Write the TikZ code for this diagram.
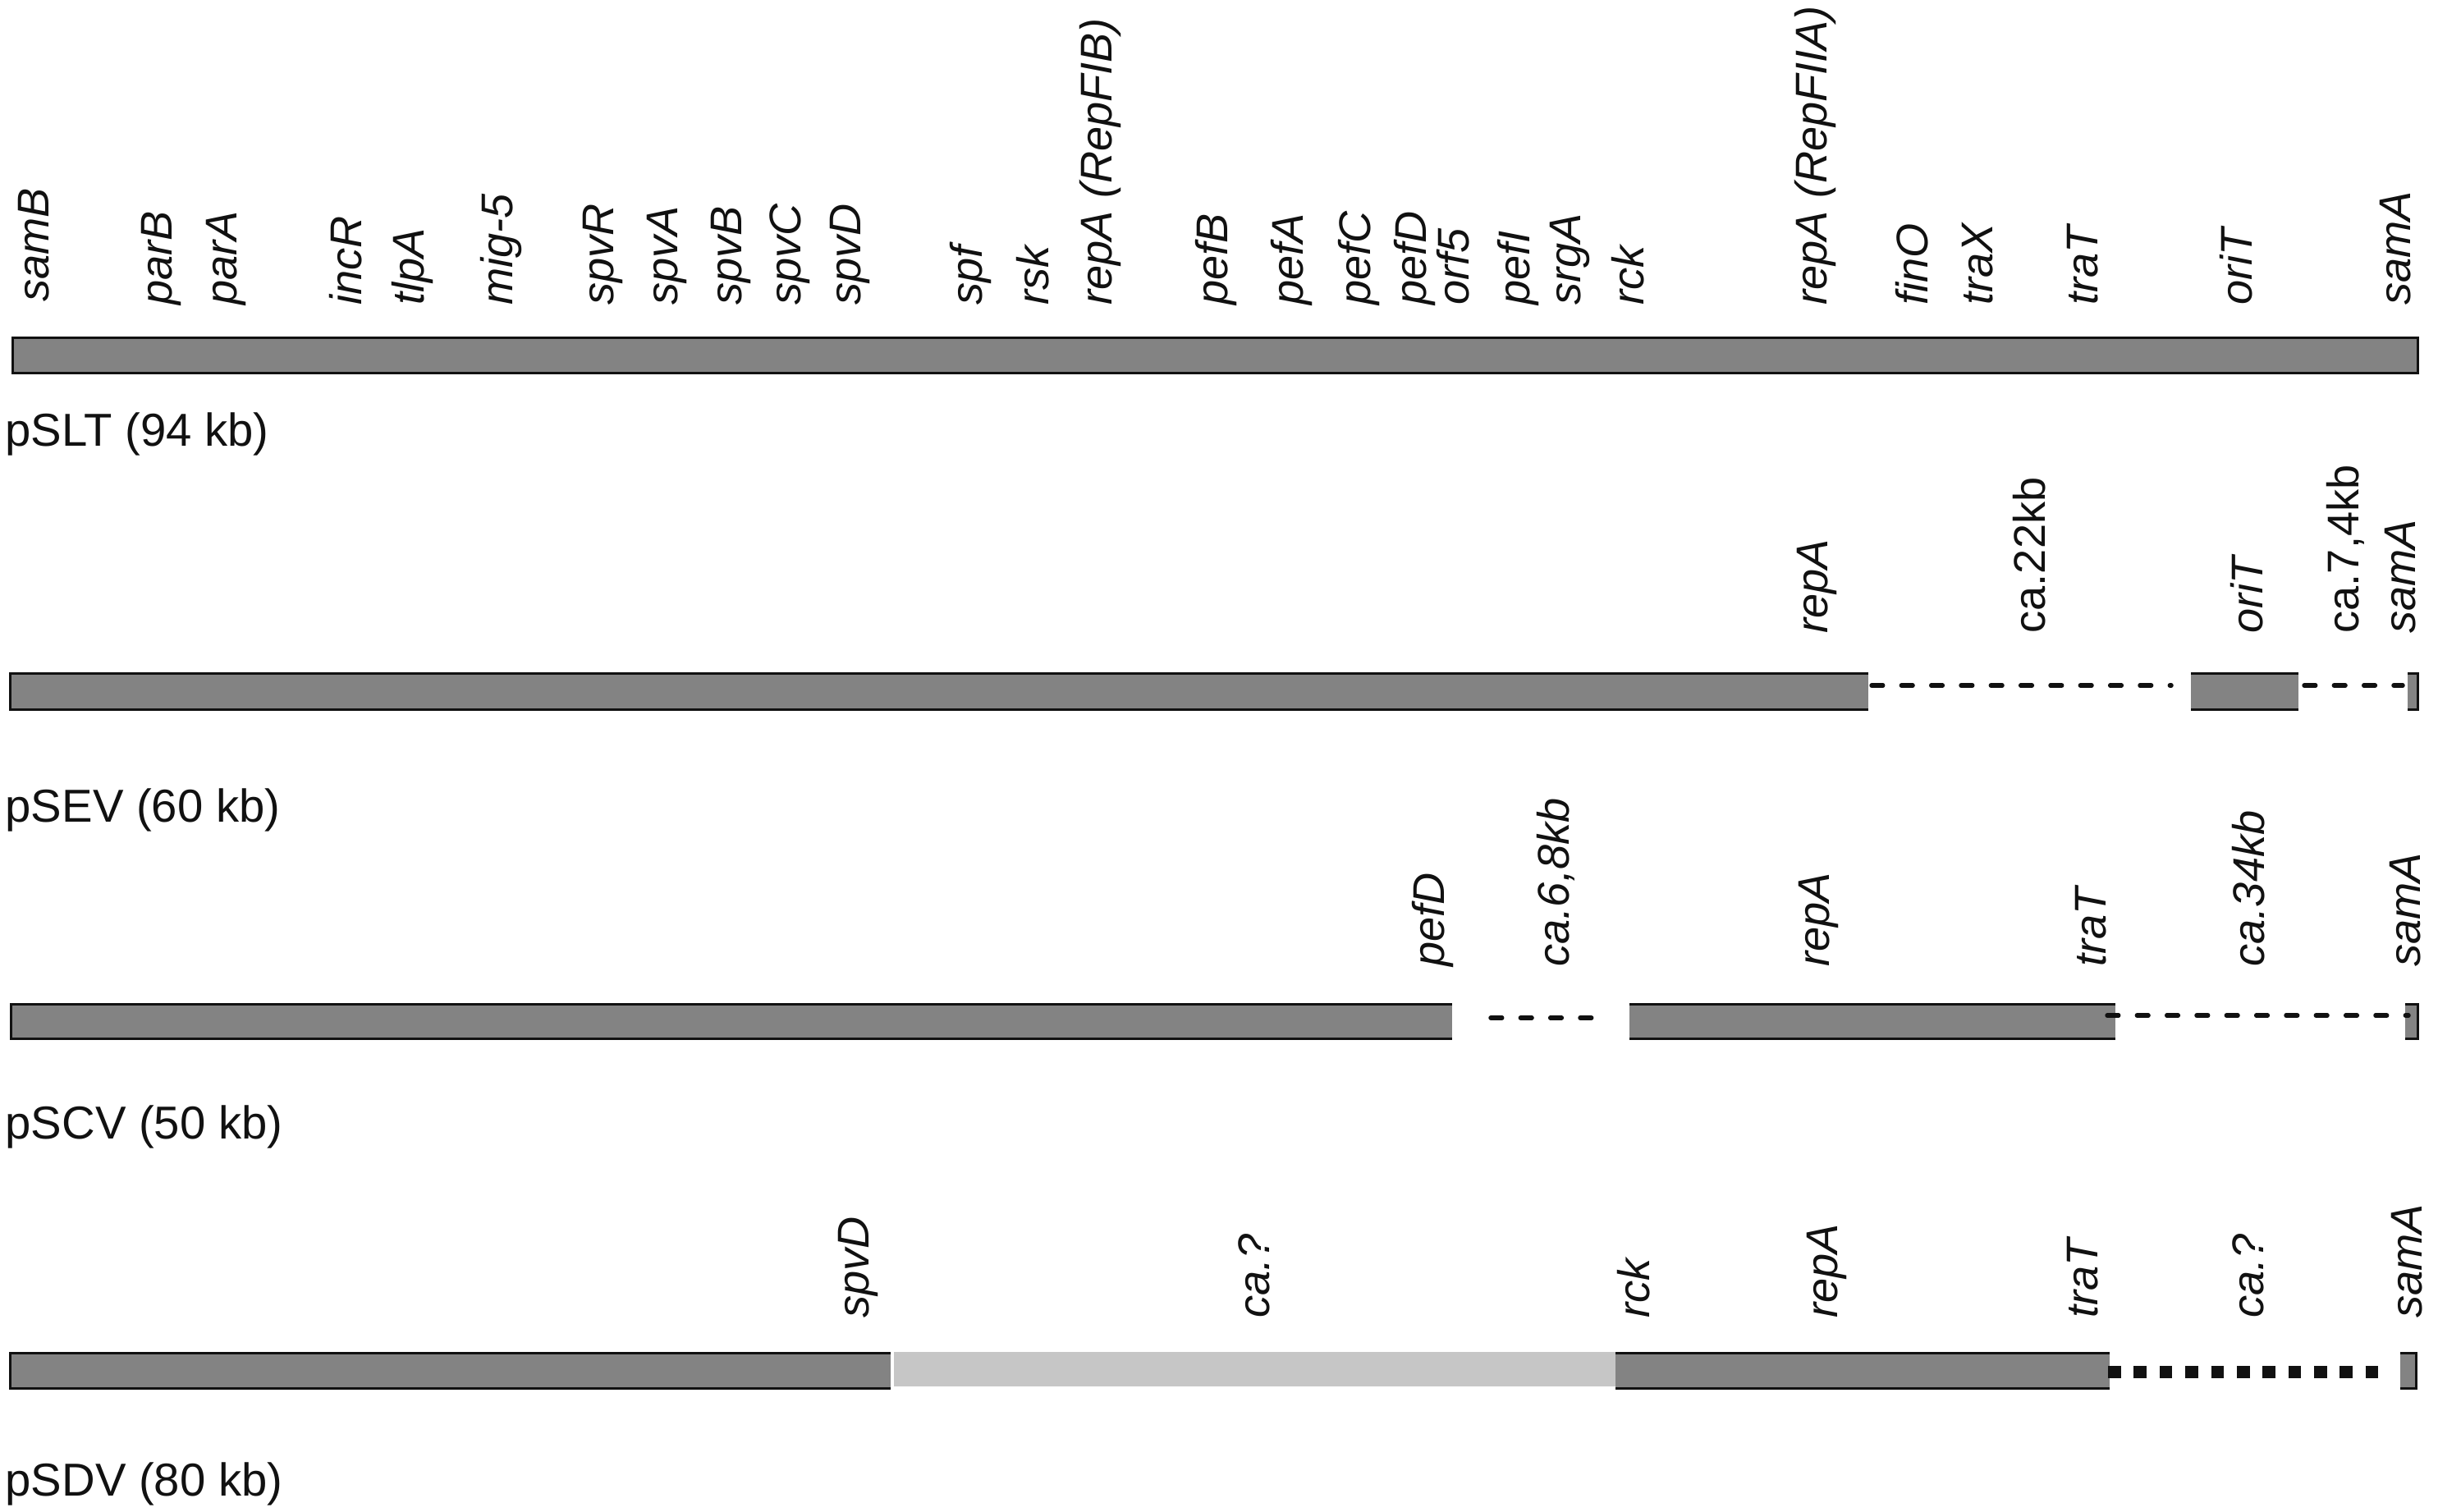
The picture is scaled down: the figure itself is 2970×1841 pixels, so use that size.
\documentclass[tikz,border=0pt]{standalone}
\usepackage{fontspec}
\setmainfont{Liberation Sans}
\definecolor{barGray}{HTML}{838383}
\definecolor{lightBar}{HTML}{C6C6C6}
\definecolor{ink}{HTML}{111111}
\newcommand\lblfont{\fontsize{15.4pt}{18pt}\selectfont}
\newcommand\plfont{\fontsize{16pt}{18pt}\selectfont}
\tikzset{
  gene/.style={rotate=90, anchor=west, inner sep=0pt, font=\lblfont\itshape, text=ink},
  size/.style={rotate=90, anchor=west, inner sep=0pt, font=\lblfont, text=ink},
  plasmid/.style={anchor=base west, inner sep=0pt, font=\plfont, text=ink},
  barfill/.style={fill=barGray, draw=none},
  edge/.style={draw=ink, line width=0.854pt, line cap=butt, line join=miter},
  gapline/.style={draw=ink, line width=1.55pt, line cap=round, dash pattern=on 3.9pt off 6.43pt},
  unknownline/.style={draw=ink, line width=4.41pt, line cap=butt, dash pattern=on 4.47pt off 4.45pt}
}
\begin{document}
\begin{tikzpicture}[x=0.01cm, y=-0.01cm]
\useasboundingbox (0,0) rectangle (2970,1841);

% ---------------- pSLT ----------------
\fill[barfill] (14,410) rectangle (2947,456);
\draw[edge] (15.5,411.5) rectangle (2945.5,454.5);
\node[plasmid] (lSLT) at (6,543) {pSLT (94 kb)};
\node[gene] (a1) at (41,368) {samB};
\node[gene] (a2) at (196,372) {parB};
\node[gene] (a3) at (275,372) {parA};
\node[gene] (a4) at (421,372) {incR};
\node[gene] (a5) at (502,372) {tlpA};
\node[gene] (a6) at (610,372) {mig-5};
\node[gene] (a7) at (734,372) {spvR};
\node[gene] (a8) at (812,372) {spvA};
\node[gene] (a9) at (890,372) {spvB};
\node[gene] (a10) at (962,372) {spvC};
\node[gene] (a11) at (1035,372) {spvD};
\node[gene] (a12) at (1182,372) {spf};
\node[gene] (a13) at (1258,372) {rsk};
\node[gene] (a14) at (1340,372) {repA (RepFIB)};
\node[gene] (a15) at (1481,372) {pefB};
\node[gene] (a16) at (1573,372) {pefA};
\node[gene] (a17) at (1655,372) {pefC};
\node[gene] (a18) at (1723,372) {pefD};
\node[gene] (a19) at (1770,372) {orf5};
\node[gene] (a20) at (1849,372) {pefI};
\node[gene] (a21) at (1912,372) {srgA};
\node[gene] (a22) at (1983,372) {rck};
\node[gene] (a23) at (2211,372) {repA (RepFIIA)};
\node[gene] (a24) at (2329,372) {finO};
\node[gene] (a25) at (2409,372) {traX};
\node[gene] (a26) at (2537,372) {traT};
\node[gene] (a27) at (2724,372) {oriT};
\node[gene] (a28) at (2918,372) {samA};

% ---------------- pSEV ----------------
\fill[barfill] (11,819) rectangle (2276,866);
\draw[edge] (2276,820.5) -- (12.5,820.5) -- (12.5,864.5) -- (2276,864.5);
\fill[barfill] (2669,819) rectangle (2800,866);
\draw[edge] (2669,820.5) -- (2800,820.5) (2669,864.5) -- (2800,864.5);
\fill[barfill] (2933,819) rectangle (2947,866);
\draw[edge] (2933,820.5) -- (2945.5,820.5) -- (2945.5,864.5) -- (2933,864.5);
\coordinate (b1s) at (2280,835); \coordinate (b1e) at (2645,835);
\coordinate (b2s) at (2807,835); \coordinate (b2e) at (2927,835);
\draw[gapline] (b1s) -- (b1e);
\draw[gapline] (b2s) -- (b2e);
\node[plasmid] (lSEV) at (6,1001) {pSEV (60 kb)};
\node[gene] (b3) at (2213,772) {repA};
\node[size] (b4) at (2472,772) {ca.22kb};
\node[gene] (b5) at (2737,772) {oriT};
\node[size] (b6) at (2857,772) {ca.7,4kb};
\node[gene] (b7) at (2924,772) {samA};

% ---------------- pSCV ----------------
\fill[barfill] (12,1222) rectangle (1769,1267);
\draw[edge] (1769,1223.5) -- (13.5,1223.5) -- (13.5,1265.5) -- (1769,1265.5);
\fill[barfill] (1985,1222) rectangle (2577,1267);
\draw[edge] (1985,1223.5) -- (2577,1223.5) (1985,1265.5) -- (2577,1265.5);
\fill[barfill] (2930,1222) rectangle (2947,1267);
\draw[edge] (2930,1223.5) -- (2945.5,1223.5) -- (2945.5,1265.5) -- (2930,1265.5);
\coordinate (c1s) at (1816,1240); \coordinate (c1e) at (1940,1240);
\coordinate (c2s) at (2567,1237); \coordinate (c2e) at (2934,1237);
\draw[gapline] (c1s) -- (c1e);
\draw[gapline] (c2s) -- (c2e);
\node[plasmid] (lSCV) at (6,1387) {pSCV (50 kb)};
\node[gene] (c3) at (1745,1178) {pefD};
\node[gene] (c4) at (1895,1178) {ca.6,8kb};
\node[gene] (c5) at (2215,1178) {repA};
\node[gene] (c6) at (2547,1178) {traT};
\node[gene] (c7) at (2739,1178) {ca.34kb};
\node[gene] (c8) at (2930,1178) {samA};

% ---------------- pSDV ----------------
\fill[barfill] (11,1647) rectangle (1085,1693);
\draw[edge] (1085,1648.5) -- (12.5,1648.5) -- (12.5,1691.5) -- (1085,1691.5);
\fill[lightBar] (1089,1647) rectangle (1968,1689);
\fill[barfill] (1968,1647) rectangle (2570,1693);
\draw[edge] (1968,1648.5) -- (2570,1648.5) (1968,1691.5) -- (2570,1691.5);
\fill[barfill] (2924,1647) rectangle (2945,1693);
\draw[edge] (2924,1648.5) -- (2943.5,1648.5) -- (2943.5,1691.5) -- (2924,1691.5);
\coordinate (d1s) at (2568,1671.5); \coordinate (d1e) at (2913,1671.5);
\draw[unknownline] (d1s) -- (d1e);
\node[plasmid] (lSDV) at (6,1822) {pSDV (80 kb)};
\node[gene] (d2) at (1045,1606) {spvD};
\node[gene] (d3) at (1528,1606) {ca.?};
\node[gene] (d4) at (1990,1606) {rck};
\node[gene] (d5) at (2225,1606) {repA};
\node[gene] (d6) at (2537,1606) {traT};
\node[gene] (d7) at (2739,1606) {ca.?};
\node[gene] (d8) at (2932,1606) {samA};
\end{tikzpicture}
\end{document}
